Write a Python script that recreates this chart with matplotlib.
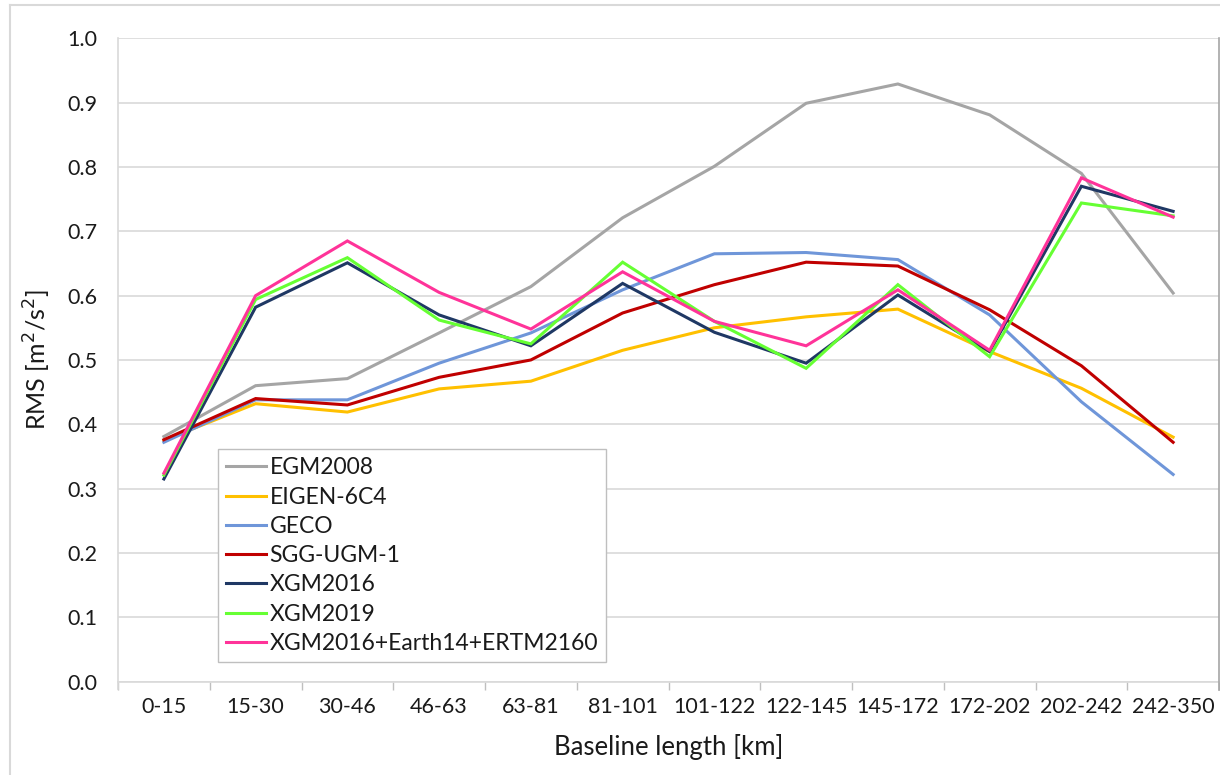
import matplotlib
matplotlib.use("Agg")
import matplotlib.pyplot as plt
from matplotlib.lines import Line2D
import numpy as np

# Baseline length classes [km]
categories = ["0-15", "15-30", "30-46", "46-63", "63-81", "81-101", "101-122",
              "122-145", "145-172", "172-202", "202-242", "242-350"]

# RMS of differences per baseline class [m^2/s^2]
egm2008   = [0.381, 0.460, 0.471, 0.542, 0.614, 0.721, 0.801, 0.899, 0.929, 0.881, 0.790, 0.604]
eigen6c4  = [0.375, 0.432, 0.419, 0.455, 0.467, 0.515, 0.550, 0.567, 0.579, 0.513, 0.456, 0.380]
geco      = [0.372, 0.438, 0.438, 0.495, 0.542, 0.609, 0.665, 0.667, 0.656, 0.570, 0.435, 0.322]
sgg_ugm1  = [0.376, 0.440, 0.430, 0.473, 0.500, 0.573, 0.617, 0.652, 0.646, 0.578, 0.491, 0.372]
xgm2016   = [0.315, 0.582, 0.651, 0.570, 0.522, 0.619, 0.543, 0.495, 0.601, 0.513, 0.770, 0.731]
xgm2019   = [0.321, 0.594, 0.659, 0.562, 0.525, 0.652, 0.560, 0.487, 0.617, 0.505, 0.744, 0.724]
xgm_comb  = [0.324, 0.600, 0.685, 0.605, 0.548, 0.637, 0.560, 0.522, 0.609, 0.515, 0.783, 0.722]

series_names = ["EGM2008", "EIGEN-6C4", "GECO", "SGG-UGM-1", "XGM2016", "XGM2019",
                "XGM2016+Earth14+ERTM2160"]
series_values = [egm2008, eigen6c4, geco, sgg_ugm1, xgm2016, xgm2019, xgm_comb]
series_colors = ["#A5A5A5", "#FFC000", "#6F96D9", "#C00000", "#1F3864", "#66FF33", "#FF3399"]

y_ticks = [0.0, 0.1, 0.2, 0.3, 0.4, 0.5, 0.6, 0.7, 0.8, 0.9, 1.0]

plt.rcParams["font.family"] = ["Lato", "DejaVu Sans"]

W, H = 1220, 775
fig = plt.figure(figsize=(W / 100, H / 100), dpi=100)
ax = fig.add_axes([118 / W, 1 - 681.6 / H, 1101 / W, 643.3 / H])

x = np.arange(len(categories))
for name, vals, col in zip(series_names, series_values, series_colors):
    ax.plot(x, vals, color=col, lw=2.2, label=name, solid_joinstyle="miter", zorder=3)

ax.set_xlim(-0.5, len(categories) - 0.5)
ax.set_ylim(0, 1.0)

# horizontal grid
ax.set_yticks(y_ticks)
ax.set_yticklabels([f"{v:.1f}" for v in y_ticks])
ax.yaxis.grid(True, color="#D9D9D9", lw=1.2)
ax.set_axisbelow(True)
ax.tick_params(axis="y", length=0, pad=15, labelsize=15.5, colors="#1a1a1a")

# category boundaries carry the tick marks, labels sit at the centres
ax.set_xticks(np.arange(-0.5, len(categories) + 0.5, 1.0))
ax.set_xticklabels([])
ax.tick_params(axis="x", which="major", length=6, width=1, color="#BFBFBF", direction="out")
ax.set_xticks(x, minor=True)
ax.set_xticklabels(categories, minor=True)
ax.tick_params(axis="x", which="minor", length=0, pad=11, labelsize=15.5, colors="#1a1a1a")

for side in ["top", "right"]:
    ax.spines[side].set_visible(False)
ax.spines["bottom"].set_color("#D9D9D9")
ax.spines["bottom"].set_linewidth(1.2)
ax.spines["left"].set_color("#D9D9D9")
ax.spines["left"].set_linewidth(1.2)
ax.spines["left"].set_bounds(-0.012, 1.0)

ax.set_ylabel("RMS [m$^2$/s$^2$]", fontsize=18, labelpad=10, color="#1a1a1a")
ax.set_xlabel("Baseline length [km]", fontsize=18.5, labelpad=12, color="#1a1a1a")

leg = ax.legend(loc="lower left", bbox_to_anchor=(0.0908, 0.0305), fontsize=16.5,
                frameon=True, fancybox=False, framealpha=1, edgecolor="#BFBFBF",
                handlelength=1.75, handletextpad=0.15, labelspacing=0.36,
                borderpad=0.35, borderaxespad=0)
leg.get_frame().set_linewidth(1.0)
for t in leg.get_texts():
    t.set_color("#1a1a1a")

# outer chart frame
fig.add_artist(Line2D([10 / W, 10 / W], [0, 1 - 5 / H], color="#D9D9D9", lw=1.5,
                      transform=fig.transFigure))
fig.add_artist(Line2D([10 / W, 1], [1 - 5 / H, 1 - 5 / H], color="#D9D9D9", lw=1.5,
                      transform=fig.transFigure))
fig.add_artist(Line2D([1218.5 / W, 1218.5 / W], [1 - 690 / H, 1 - 38 / H], color="#A6A6A6",
                      lw=1.2, transform=fig.transFigure))

fig.savefig("out.png", dpi=100)
